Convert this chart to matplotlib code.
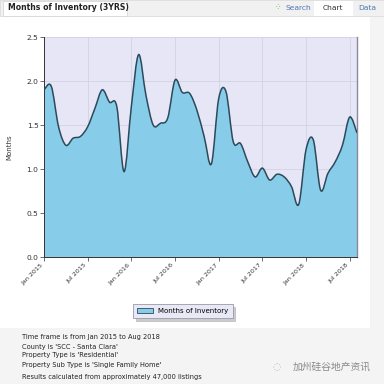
import numpy as np
import matplotlib
matplotlib.use("Agg")
import matplotlib.pyplot as plt
from matplotlib.path import Path
from matplotlib.patches import PathPatch, Patch, Rectangle

# monthly months-of-inventory, Jan 2015 .. Aug 2018
inventory = [1.90, 1.94, 1.48, 1.27, 1.35, 1.37, 1.48, 1.69, 1.90, 1.76,
             1.71, 0.97, 1.71, 2.30, 1.84, 1.50, 1.52, 1.58, 2.01, 1.87,
             1.86, 1.67, 1.37, 1.06, 1.80, 1.88, 1.31, 1.29, 1.08, 0.91,
             1.01, 0.875, 0.94, 0.91, 0.80, 0.60, 1.22, 1.33, 0.76, 0.95,
             1.08, 1.27, 1.59, 1.41]
tick_labels = ["Jan 2015", "Jul 2015", "Jan 2016", "Jul 2016",
               "Jan 2017", "Jul 2017", "Jan 2018", "Jul 2018"]
y_ticks = [0.0, 0.5, 1.0, 1.5, 2.0, 2.5]
notes = ["Time frame is from Jan 2015 to Aug 2018",
         "County is 'SCC - Santa Clara'",
         "Property Type is 'Residential'",
         "Property Sub Type is 'Single Family Home'",
         "Results calculated from approximately 47,000 listings"]

W = 384.0
fig = plt.figure(figsize=(3.84, 3.84), dpi=100, facecolor='#f4f4f4')

def fx(px):
    return px / W

def fy(py):
    return 1 - py / W

# page panels
fig.patches.append(Rectangle((0, fy(328)), fx(370), fy(17) - fy(328), transform=fig.transFigure,
                             facecolor='white', edgecolor='none', zorder=-3))
fig.patches.append(Rectangle((0, fy(16)), 1, fy(0) - fy(16), transform=fig.transFigure,
                             facecolor='#f1f1f1', edgecolor='#dddddd', lw=0.6, zorder=-3))
fig.patches.append(Rectangle((fx(3), fy(16)), fx(124), fy(1) - fy(16), transform=fig.transFigure,
                             facecolor='white', edgecolor='#d8d8d8', lw=0.6, zorder=-2))
fig.patches.append(Rectangle((fx(314), fy(16)), fx(39), fy(1) - fy(16), transform=fig.transFigure,
                             facecolor='white', edgecolor='none', zorder=-2))
fig.text(fx(8), fy(8), "Months of Inventory (3YRS)", fontsize=5.6, fontweight='bold',
         color='#222222', va='center', ha='left')
fig.text(fx(275), fy(8), "\u2058", fontsize=5.5, color='#6a9a6a', va='center', ha='left')
fig.text(fx(285), fy(8), "Search", fontsize=5.4, color='#4a78b0', va='center', ha='left')
fig.text(fx(323), fy(8), "Chart", fontsize=5.4, color='#333333', va='center', ha='left')
fig.text(fx(358), fy(8), "Data", fontsize=5.4, color='#4a78b0', va='center', ha='left')

ax = fig.add_axes([fx(44), fy(257), fx(357) - fx(44), fy(37) - fy(257)])
ax.set_zorder(2)
ax.set_facecolor('#e6e6f6')

# smooth spline through the monthly points (bezier segments)
x = np.arange(len(inventory), dtype=float)
y = np.array(inventory)
pts = np.column_stack([x, y])
verts = [tuple(pts[0])]
codes = [Path.MOVETO]
n = len(pts)
for i in range(n - 1):
    p0 = pts[max(i - 1, 0)]
    p1 = pts[i]
    p2 = pts[i + 1]
    p3 = pts[min(i + 2, n - 1)]
    c1 = p1 + (p2 - p0) / 6.0
    c2 = p2 - (p3 - p1) / 6.0
    verts += [tuple(c1), tuple(c2), tuple(p2)]
    codes += [Path.CURVE4] * 3
line_path = Path(verts, codes)
fill_verts = verts + [(x[-1], 0), (x[0], 0), verts[0]]
fill_codes = codes + [Path.LINETO, Path.LINETO, Path.CLOSEPOLY]
ax.add_patch(PathPatch(Path(fill_verts, fill_codes), facecolor='#87cde9', edgecolor='none', zorder=2))
ax.add_patch(PathPatch(line_path, facecolor='none', edgecolor='#2c4a5a', lw=1.1, zorder=3))

ax.set_xlim(0, len(inventory) - 1)
ax.set_ylim(0, 2.5)
ax.set_xticks(np.arange(0, len(inventory), 6))
ax.set_xticklabels(tick_labels, rotation=45, ha='right', fontsize=4.6, color='#333333')
ax.set_yticks(y_ticks)
ax.set_yticklabels(["%.1f" % v for v in y_ticks], fontsize=5.4, color='#333333')
ax.tick_params(axis='both', length=3, width=0.6, color='#555555', pad=1)
ax.grid(True, color='#d2d2e2', lw=0.6, zorder=1)
ax.set_axisbelow(True)
ax.spines['top'].set_visible(False)
ax.spines['right'].set_color('#8a8a9a')
ax.spines['right'].set_linewidth(1.0)
ax.spines['left'].set_color('#333333')
ax.spines['bottom'].set_color('#333333')
ax.spines['left'].set_linewidth(0.7)
ax.spines['bottom'].set_linewidth(0.7)
ax.set_ylabel("Months", fontsize=5, color='#333333', labelpad=10)

leg = fig.legend(handles=[Patch(facecolor='#87cde9', edgecolor='#2c4a5a', lw=0.6, label='Months of Inventory')],
                 loc='center', bbox_to_anchor=(fx(183), fy(311)), fontsize=5, frameon=True,
                 fancybox=False, shadow={'color': '#999999', 'alpha': 0.5},
                 handlelength=2.2, handleheight=0.8, borderpad=0.6)
leg.get_frame().set_facecolor('#e8e8f6')
leg.get_frame().set_edgecolor('#9a9aa8')
leg.get_frame().set_linewidth(0.6)

for t, py in zip(notes, [337, 346.5, 355.5, 364.5, 376.5]):
    fig.text(fx(22), fy(py), t, fontsize=4.8, color='#222222', va='center', ha='left')

fig.text(fx(272), fy(367), "\u25cc", fontsize=7, color='#bbbbbb', va='center', ha='left')
fig.text(fx(293), fy(367), "加州硅谷地产资讯", fontsize=7, color='#8a8a8a', va='center', ha='left',
         family=['Noto Sans CJK SC', 'DejaVu Sans'])

fig.savefig("out.png", dpi=100, facecolor=fig.get_facecolor())
